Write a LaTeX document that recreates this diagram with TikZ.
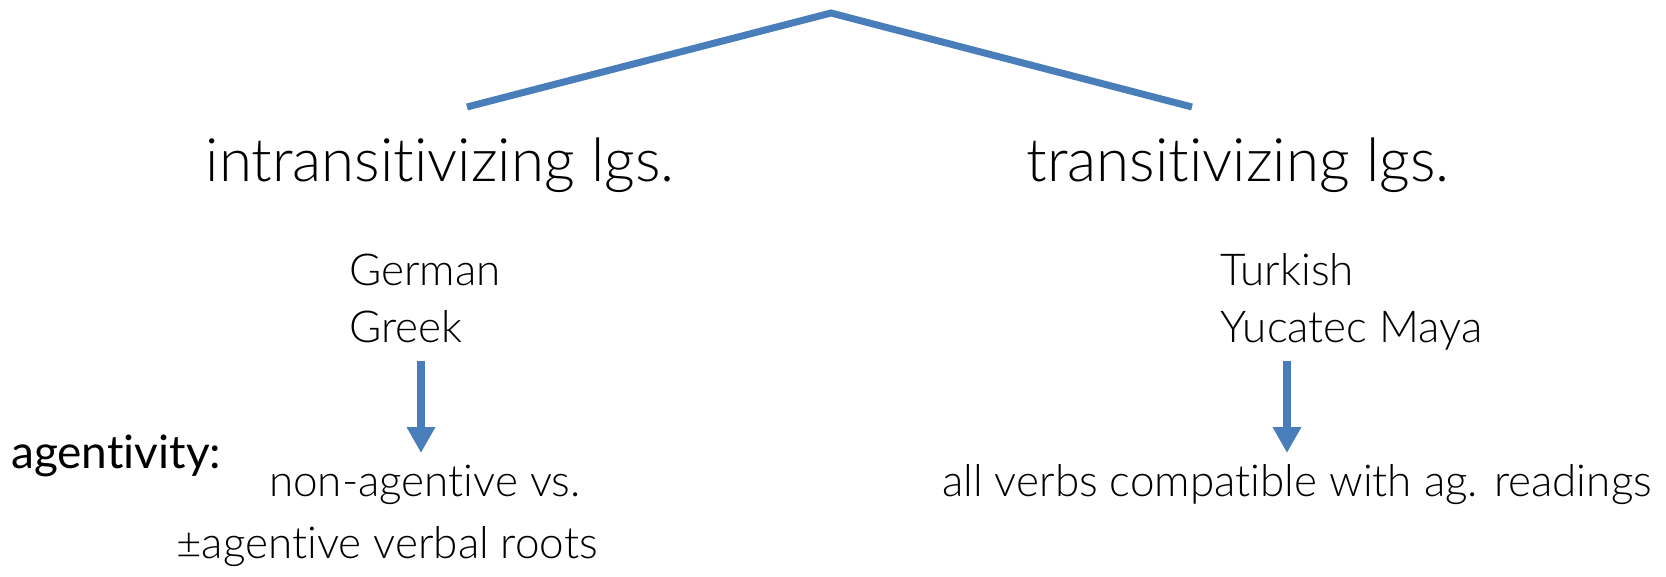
\documentclass[tikz,border=0pt]{standalone}
\usepackage{fontspec}
\setmainfont{Lato}[UprightFont=* Light, BoldFont=* Regular, Ligatures={NoCommon,NoContextual}]
\usetikzlibrary{arrows.meta}
\definecolor{lineblue}{HTML}{4A7EBB}
\tikzset{
  treeline/.style={draw=lineblue, line width=7pt},
  downarrow/.style={draw=lineblue, line width=8.5pt, -{Triangle[length=26pt,width=27pt]}},
  bigtxt/.style={inner sep=0pt, font=\fontsize{60}{72}\selectfont},
  txt/.style={inner sep=0pt, font=\fontsize{44}{52}\selectfont},
}
\begin{document}
\begin{tikzpicture}[x=1pt,y=-1pt]
\useasboundingbox (0,0) rectangle (1666,576);
% tree
\coordinate (apex) at (831,13);
\coordinate (lend) at (467,107);
\coordinate (rend) at (1192,107);
\draw[treeline] (lend) -- (apex) -- (rend);
% headings
\node[bigtxt, anchor=base] (intr) at (440,181) {intransitivizing lgs.};
\node[bigtxt, anchor=base] (tr) at (1238,181) {transitivizing lgs.};
% languages
\node[txt, anchor=base west] (german) at (349,285) {German};
\node[txt, anchor=base west] (greek) at (349,342) {Greek};
\node[txt, anchor=base west] (turkish) at (1220,285) {Turkish};
\node[txt, anchor=base west] (yucatec) at (1220,342) {Yucatec Maya};
% arrows
\coordinate (la1) at (421,361);
\coordinate (la2) at (421,453);
\coordinate (ra1) at (1287,361);
\coordinate (ra2) at (1287,453);
\draw[downarrow] (la1) -- (la2);
\draw[downarrow] (ra1) -- (ra2);
% bottom
\node[txt, anchor=base west, font=\fontsize{46}{54}\selectfont\bfseries] (agent) at (11,468) {agentivity:};
\node[txt, anchor=base] (nonag) at (425,496) {non-agentive vs.};
\node[txt, anchor=base] (pmag) at (387,558) {±agentive verbal roots};
\node[txt, anchor=base] (allv) at (1297,496) {all verbs compatible with ag. readings};
\end{tikzpicture}
\end{document}
